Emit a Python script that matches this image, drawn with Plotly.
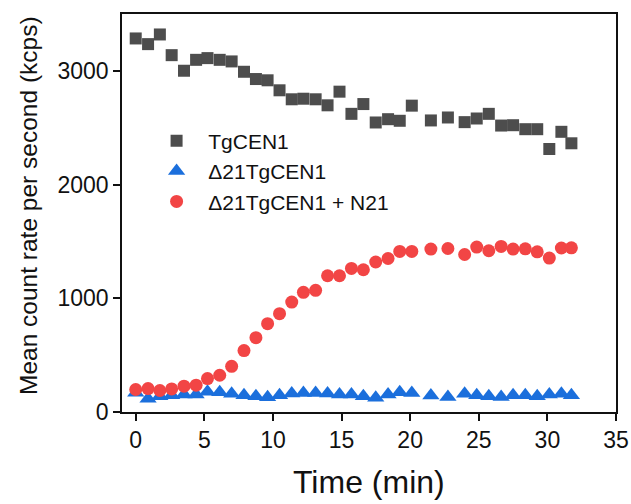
import plotly.graph_objects as go

time_min = [0.0, 0.9, 1.76, 2.62, 3.52, 4.4, 5.23, 6.12, 6.99, 7.89, 8.76, 9.61,
            10.48, 11.37, 12.22, 13.11, 13.98, 14.85, 15.72, 16.59, 17.49, 18.39,
            19.24, 20.12, 21.51, 22.75, 23.97, 24.85, 25.73, 26.63, 27.5, 28.39,
            29.26, 30.14, 31.02, 31.75]

tgcen1 = [3285, 3235, 3320, 3138, 3001, 3097, 3112, 3097, 3083, 2992, 2928, 2917,
          2829, 2750, 2755, 2750, 2697, 2817, 2622, 2708, 2546, 2575, 2561, 2694,
          2564, 2590, 2549, 2581, 2622, 2519, 2522, 2487, 2487, 2313, 2464, 2363]

d21_tgcen1 = [170, 116, 139, 148, 154, 154, 177, 174, 160, 148, 139, 130,
              148, 162, 168, 168, 162, 154, 154, 139, 125, 154, 174, 168,
              145, 133, 160, 148, 139, 133, 148, 148, 139, 154, 160, 148]

d21_tgcen1_n21 = [198, 206, 189, 203, 227, 236, 294, 323, 402, 540, 654, 777,
                  865, 967, 1052, 1070, 1198, 1198, 1263, 1251, 1319, 1350, 1412, 1412,
                  1433, 1438, 1385, 1450, 1418, 1456, 1433, 1435, 1409, 1354, 1442, 1444]

series_names = ["TgCEN1", "\u039421TgCEN1", "\u039421TgCEN1 + N21"]
x_ticks = [0, 5, 10, 15, 20, 25, 30, 35]
y_ticks = [0, 1000, 2000, 3000]
x_title = "Time (min)"
y_title = "Mean count rate per second (kcps)"

FONT = "Liberation Sans, Arial, sans-serif"

fig = go.Figure()
fig.add_trace(go.Scatter(x=time_min, y=tgcen1, mode="markers",
                         name="\u00a0\u00a0" + series_names[0],
                         marker=dict(symbol="square", size=12, color="#4d4d4d")))
fig.add_trace(go.Scatter(x=time_min, y=d21_tgcen1, mode="markers",
                         name="\u00a0\u00a0" + series_names[1],
                         marker=dict(symbol="triangle-up", size=15, color="#1b6fdc")))
fig.add_trace(go.Scatter(x=time_min, y=d21_tgcen1_n21, mode="markers",
                         name="\u00a0\u00a0" + series_names[2],
                         marker=dict(symbol="circle", size=13, color="#f24545")))

axis_common = dict(showline=True, linecolor="#111111", linewidth=1.5, mirror=True,
                   ticks="outside", ticklen=7, tickwidth=1.5, tickcolor="#111111",
                   showgrid=False, zeroline=False, automargin=False,
                   tickfont=dict(family=FONT, size=23, color="#111111"))

fig.update_layout(
    width=631, height=504,
    margin=dict(l=122, r=15, t=14, b=91.5, autoexpand=False),
    paper_bgcolor="white", plot_bgcolor="white",
    font=dict(family=FONT, color="#111111"),
    xaxis=dict(range=[-1, 35], tickvals=x_ticks, ticktext=[str(v) for v in x_ticks],
               **axis_common),
    yaxis=dict(range=[0, 3500], tickvals=y_ticks, ticktext=[str(v) for v in y_ticks],
               **axis_common),
    legend=dict(x=0.07, y=0.732, xanchor="left", yanchor="top",
                font=dict(size=21, color="#111111"), bgcolor="rgba(0,0,0,0)",
                itemsizing="trace"),
    showlegend=True,
    annotations=[
        dict(text=x_title, xref="paper", yref="paper", x=0.5, y=0, xanchor="center",
             yanchor="middle", yshift=-70, showarrow=False,
             font=dict(family=FONT, size=32, color="#111111")),
        dict(text=y_title, xref="paper", yref="paper", x=0, y=0.5, xanchor="center",
             yanchor="middle", xshift=-94, yshift=7, textangle=-90, showarrow=False,
             font=dict(family=FONT, size=24.5, color="#111111")),
    ],
)

fig.write_html("out.html", config={"displayModeBar": False},
               post_script="document.body.style.margin='0';")
